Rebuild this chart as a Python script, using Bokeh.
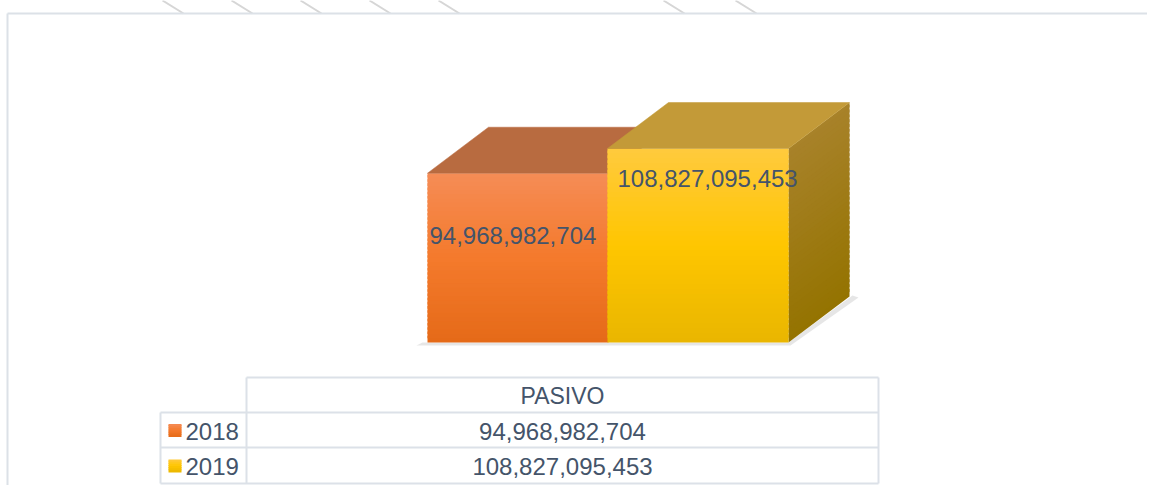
from bokeh.plotting import figure
from bokeh.models import Range1d
from bokeh.embed import file_html
from bokeh.resources import INLINE
from bokeh.core.properties import value

# ---------------- data ----------------
series = ["2018", "2019"]
category = "PASIVO"
values = [94968982704, 108827095453]

# ---------------- style ----------------
TEXT = "#44546A"
GRID = "#DCE1E8"
FONT = "Liberation Sans"
front_top = ["#F58C56", "#FFCA3E"]
front_mid = ["#F47A2C", "#FFC600"]
front_bot = ["#E56A18", "#E9B600"]
top_col = ["#B86B40", "#C39A38"]
side_top = "#A8822A"
side_bot = "#947300"

W, H = 1147, 485
p = figure(width=W, height=H, output_backend="svg", toolbar_location=None,
           x_axis_location=None, y_axis_location=None, min_border=0,
           x_range=Range1d(0, W), y_range=Range1d(H, 0))
p.grid.visible = False
p.outline_line_color = None
p.background_fill_color = "white"
p.border_fill_color = "white"

# value range: baseline at pixel 342, max value reaches pixel 148
base_px, top_px = 342, 148
upp = max(values) / (base_px - top_px)
p.extra_y_ranges = {"val": Range1d(start=-(H - base_px) * upp, end=base_px * upp)}

def hex2rgb(h):
    h = h.lstrip("#")
    return [int(h[i:i + 2], 16) for i in (0, 2, 4)]

def mix(a, b, t):
    a, b = hex2rgb(a), hex2rgb(b)
    t = min(max(t, 0), 1)
    return "#%02x%02x%02x" % tuple(int(round(a[i] + (b[i] - a[i]) * t)) for i in range(3))

def grad3(bot, mid, top, t):
    return mix(bot, mid, t * 2) if t < 0.5 else mix(mid, top, (t - 0.5) * 2)

# decorative lines above the chart box
deco_x = [162, 231, 300, 369, 438, 663, 735]
p.segment(x0=deco_x, y0=[0] * len(deco_x), x1=[x + 21 for x in deco_x], y1=[13] * len(deco_x),
          line_color="#D6D6D6", line_width=2)
# chart box border
p.segment(x0=[7, 7], y0=[13, 13], x1=[W, 7], y1=[13, H], line_color="#DCE1E7", line_width=2)

# bars geometry (pixels)
bar_left = [427, 607]
bar_w = 181
dx, dy = 61, 46
dyv = dy * upp
N = 40

# floor shadow
p.patch(x=[416, 790, 858, 852, 788, 422], y=[345, 345, 297, 295, 342, 342],
        fill_color="#C8C8C8", fill_alpha=0.45, line_color=None)

for i, v in enumerate(values):
    x0, x1 = bar_left[i], bar_left[i] + bar_w
    # side face (only last bar visible)
    if i == len(values) - 1:
        for k in range(N):
            t0, t1 = k / N, min((k + 1.6) / N, 1)
            c = mix(side_bot, side_top, (k + 0.5) / N)
            p.patch(x=[x1, x1 + dx, x1 + dx, x1],
                    y=[v * t0, v * t0 + dyv, v * t1 + dyv, v * t1],
                    y_range_name="val", fill_color=c, line_color=None)
    # front face gradient
    bots = [v * k / N for k in range(N)]
    tops = [v * min((k + 1.6) / N, 1) for k in range(N)]
    cols = [grad3(front_bot[i], front_mid[i], front_top[i], (k + 0.5) / N) for k in range(N)]
    p.quad(left=[x0] * N, right=[x1] * N, bottom=bots, top=tops, y_range_name="val",
           fill_color=cols, line_color=None)
    # top face
    p.patch(x=[x0, x1, x1 + dx, x0 + dx], y=[v, v, v + dyv, v + dyv], y_range_name="val",
            fill_color=top_col[i], line_color=top_col[i], line_width=0.5)

# data labels on bars
lab_x = [429, 617]
lab_y = [235, 178]
p.text(x=lab_x, y=lab_y, text=[f"{v:,}" for v in values], text_font=value(FONT),
       text_font_size="24px", text_color=TEXT, text_align="left", text_baseline="middle")

# data table
tl, tm, tr = 160, 246, 878
ty = [377, 412, 447, 483]
p.segment(x0=[tm, tl, tl, tl, tm, tr, tl], y0=[ty[0], ty[1], ty[2], ty[3], ty[0], ty[0], ty[1]],
          x1=[tr, tr, tr, tr, tm, tr, tl], y1=[ty[0], ty[1], ty[2], ty[3], ty[3], ty[3], ty[3]],
          line_color=GRID, line_width=2)
p.text(x=[(tm + tr) / 2], y=[(ty[0] + ty[1]) / 2 + 1], text=[category], text_font=value(FONT),
       text_font_size="23px", text_color=TEXT, text_align="center", text_baseline="middle")
row_y = [(ty[1] + ty[2]) / 2 + 1, (ty[2] + ty[3]) / 2 + 1]
p.text(x=[(tm + tr) / 2] * 2, y=row_y, text=[f"{v:,}" for v in values], text_font=value(FONT),
       text_font_size="24px", text_color=TEXT, text_align="center", text_baseline="middle")
p.text(x=[185] * 2, y=row_y, text=series, text_font=value(FONT),
       text_font_size="24px", text_color=TEXT, text_align="left", text_baseline="middle")
# legend keys
M = 6
for i in range(len(series)):
    yc = row_y[i] - 0.5
    bots = [yc + 6.5 - 13 * k / M for k in range(M)]
    tops = [yc + 6.5 - 13 * min((k + 1.5) / M, 1) for k in range(M)]
    cols = [grad3(front_bot[i], front_mid[i], front_top[i], (k + 0.5) / M) for k in range(M)]
    p.quad(left=[168] * M, right=[181] * M, bottom=bots, top=tops, fill_color=cols, line_color=None)

open("out.html", "w").write(file_html(p, INLINE))
